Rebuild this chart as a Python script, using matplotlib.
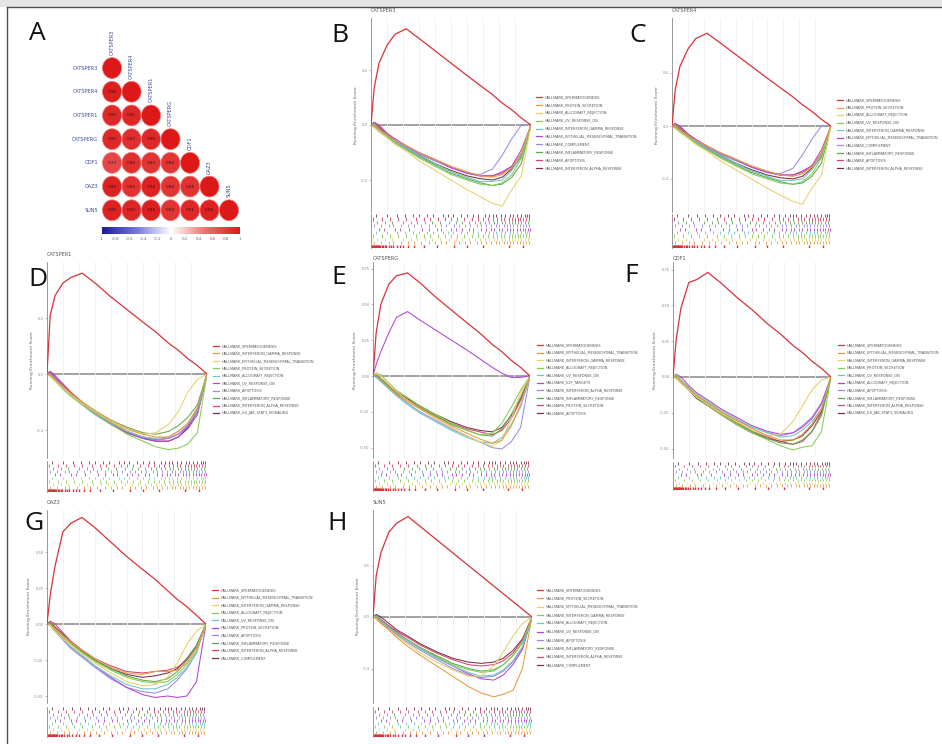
#!/usr/bin/env python3
"""
GSEA multi-panel figure: correlation plot (A) + running enrichment score plots (B-H)
"""

import matplotlib.pyplot as plt
from matplotlib.patches import Ellipse, Rectangle
from matplotlib.lines import Line2D
from matplotlib.colors import LinearSegmentedColormap, Normalize
from matplotlib.cm import ScalarMappable

plt.rcParams['font.family'] = ['DejaVu Sans']

W, H = 942, 744

# ---------------- panel A data ----------------
GENES = ['CATSPER3', 'CATSPER4', 'CATSPER1', 'CATSPERG', 'ODF1', 'OAZ3', 'SUN5']
CORR_ROWS = [
    [1.00],
    [0.96, 1.00],
    [0.90, 0.91, 1.00],
    [0.90, 0.87, 0.90, 1.00],
    [0.73, 0.86, 0.83, 0.84, 1.00],
    [0.94, 0.85, 0.94, 0.84, 0.85, 1.00],
    [0.95, 0.92, 0.96, 0.84, 0.91, 0.94, 1.00],
]
CBAR_TICKS = [-1, -0.8, -0.6, -0.4, -0.2, 0, 0.2, 0.4, 0.6, 0.8, 1]
CBAR_LABELS = ['-1', '-0.8', '-0.6', '-0.4', '-0.2', '0', '0.2', '0.4', '0.6', '0.8', '1']

# ---------------- GSEA data ----------------
X_GRID = [0, .02, .05, .1, .15, .22, .3, .4, .5, .6, .68, .76, .82, .88, .94, 1.0]

B_SETS = ['SPERMATOGENESIS', 'PROTEIN_SECRETION', 'ALLOGRAFT_REJECTION', 'UV_RESPONSE_DN',
          'INTERFERON_GAMMA_RESPONSE', 'EPITHELIAL_MESENCHYMAL_TRANSITION', 'COMPLEMENT',
          'INFLAMMATORY_RESPONSE', 'APOPTOSIS', 'INTERFERON_ALPHA_RESPONSE']
B_SCORES = [
    [0, .27, .45, .58, .66, .70, .63, .54, .45, .36, .29, .22, .16, .11, .05, 0],
    [0, -.01, -.03, -.07, -.11, -.15, -.20, -.25, -.30, -.34, -.37, -.38, -.36, -.31, -.20, 0],
    [0, -.02, -.05, -.09, -.14, -.19, -.26, -.33, -.40, -.47, -.52, -.57, -.59, -.47, -.37, 0],
    [0, .01, -.03, -.08, -.13, -.18, -.24, -.30, -.36, -.40, -.43, -.44, -.42, -.36, -.24, 0],
    [0, -.01, -.04, -.08, -.12, -.17, -.22, -.28, -.34, -.38, -.41, -.41, -.40, -.33, -.22, 0],
    [0, .02, .00, -.06, -.10, -.15, -.20, -.25, -.31, -.35, -.37, -.37, -.34, -.30, -.18, 0],
    [0, .00, -.04, -.08, -.12, -.16, -.21, -.26, -.31, -.35, -.36, -.32, -.22, -.10, .00, 0],
    [0, -.01, -.04, -.09, -.13, -.18, -.23, -.29, -.35, -.39, -.42, -.44, -.43, -.38, -.28, 0],
    [0, .02, -.01, -.06, -.11, -.16, -.21, -.26, -.31, -.35, -.37, -.37, -.35, -.30, -.21, 0],
    [0, .01, -.02, -.07, -.12, -.17, -.22, -.28, -.33, -.37, -.39, -.40, -.38, -.32, -.23, 0],
]

C_SETS = B_SETS
C_SCORES = B_SCORES  # CATSPER4 curves are practically identical to CATSPER3

D_SETS = ['SPERMATOGENESIS', 'INTERFERON_GAMMA_RESPONSE', 'EPITHELIAL_MESENCHYMAL_TRANSITION',
          'PROTEIN_SECRETION', 'ALLOGRAFT_REJECTION', 'UV_RESPONSE_DN', 'APOPTOSIS',
          'INFLAMMATORY_RESPONSE', 'INTERFERON_ALPHA_RESPONSE', 'IL6_JAK_STAT3_SIGNALING']
D_SCORES = [
    [0, .42, .56, .65, .69, .72, .65, .55, .46, .37, .30, .22, .17, .11, .06, 0],
    [0, -.01, -.04, -.09, -.14, -.20, -.26, -.33, -.39, -.43, -.45, -.45, -.41, -.35, -.24, 0],
    [0, -.02, -.05, -.10, -.15, -.21, -.27, -.34, -.40, -.43, -.42, -.36, -.27, -.13, -.04, 0],
    [0, -.01, -.05, -.11, -.16, -.22, -.29, -.36, -.43, -.48, -.52, -.54, -.53, -.50, -.42, 0],
    [0, .00, -.04, -.10, -.15, -.21, -.28, -.35, -.41, -.45, -.46, -.45, -.41, -.36, -.26, 0],
    [0, .01, -.02, -.08, -.14, -.21, -.28, -.36, -.42, -.46, -.48, -.48, -.45, -.38, -.27, 0],
    [0, .00, -.03, -.09, -.15, -.22, -.29, -.36, -.42, -.46, -.47, -.46, -.43, -.38, -.29, 0],
    [0, -.01, -.04, -.09, -.14, -.20, -.27, -.33, -.38, -.42, -.43, -.41, -.37, -.31, -.22, 0],
    [0, .02, -.01, -.07, -.13, -.20, -.27, -.34, -.41, -.45, -.47, -.46, -.43, -.37, -.25, 0],
    [0, .01, -.03, -.09, -.15, -.21, -.28, -.35, -.42, -.46, -.48, -.48, -.45, -.39, -.29, 0],
]

E_SETS = ['SPERMATOGENESIS', 'EPITHELIAL_MESENCHYMAL_TRANSITION', 'INTERFERON_GAMMA_RESPONSE',
          'ALLOGRAFT_REJECTION', 'UV_RESPONSE_DN', 'E2F_TARGETS', 'INTERFERON_ALPHA_RESPONSE',
          'INFLAMMATORY_RESPONSE', 'PROTEIN_SECRETION', 'APOPTOSIS']
E_SCORES = [
    [0, .30, .50, .64, .70, .72, .65, .55, .46, .37, .30, .22, .17, .11, .06, 0],
    [0, .01, -.03, -.08, -.13, -.18, -.23, -.29, -.35, -.40, -.44, -.47, -.45, -.35, -.20, 0],
    [0, .02, .00, -.06, -.11, -.17, -.23, -.30, -.36, -.42, -.46, -.49, -.45, -.30, -.12, 0],
    [0, .02, .01, -.05, -.10, -.15, -.21, -.27, -.33, -.38, -.41, -.40, -.33, -.22, -.10, 0],
    [0, -.01, -.04, -.09, -.14, -.20, -.26, -.32, -.38, -.43, -.46, -.47, -.43, -.34, -.22, 0],
    [0, .08, .17, .30, .41, .45, .39, .32, .25, .18, .12, .06, .02, -.01, -.01, 0],
    [0, .00, -.03, -.08, -.13, -.19, -.25, -.31, -.37, -.42, -.46, -.50, -.51, -.46, -.36, 0],
    [0, .01, -.02, -.07, -.12, -.17, -.22, -.28, -.34, -.38, -.41, -.42, -.37, -.27, -.15, 0],
    [0, .00, -.03, -.08, -.12, -.17, -.22, -.28, -.33, -.37, -.39, -.41, -.38, -.30, -.17, 0],
    [0, .01, -.02, -.07, -.11, -.16, -.21, -.27, -.32, -.36, -.38, -.39, -.36, -.28, -.16, 0],
]

F_SETS = ['SPERMATOGENESIS', 'EPITHELIAL_MESENCHYMAL_TRANSITION', 'INTERFERON_GAMMA_RESPONSE',
          'PROTEIN_SECRETION', 'UV_RESPONSE_DN', 'ALLOGRAFT_REJECTION', 'APOPTOSIS',
          'INFLAMMATORY_RESPONSE', 'INTERFERON_ALPHA_RESPONSE', 'IL6_JAK_STAT3_SIGNALING']
F_SCORES = [
    [0, .26, .48, .66, .68, .73, .66, .56, .47, .37, .30, .22, .17, .11, .06, 0],
    [0, .01, -.03, -.08, -.13, -.18, -.24, -.30, -.36, -.41, -.44, -.44, -.40, -.33, -.22, 0],
    [0, -.01, -.04, -.09, -.14, -.19, -.25, -.31, -.37, -.41, -.40, -.31, -.20, -.09, -.02, 0],
    [0, .00, -.04, -.09, -.14, -.20, -.26, -.33, -.39, -.44, -.48, -.51, -.49, -.48, -.38, 0],
    [0, .02, -.02, -.07, -.12, -.17, -.23, -.29, -.35, -.39, -.42, -.41, -.37, -.31, -.22, 0],
    [0, .02, .00, -.06, -.11, -.16, -.22, -.28, -.34, -.38, -.40, -.39, -.35, -.29, -.19, 0],
    [0, .00, -.03, -.08, -.13, -.18, -.24, -.30, -.35, -.39, -.41, -.39, -.34, -.28, -.18, 0],
    [0, -.01, -.04, -.09, -.14, -.19, -.25, -.32, -.38, -.43, -.46, -.47, -.44, -.38, -.27, 0],
    [0, .01, -.03, -.08, -.13, -.19, -.25, -.31, -.38, -.42, -.45, -.47, -.45, -.38, -.25, 0],
    [0, .00, -.04, -.09, -.15, -.20, -.26, -.33, -.39, -.43, -.45, -.44, -.41, -.34, -.24, 0],
]

G_SETS = ['SPERMATOGENESIS', 'EPITHELIAL_MESENCHYMAL_TRANSITION', 'INTERFERON_GAMMA_RESPONSE',
          'ALLOGRAFT_REJECTION', 'UV_RESPONSE_DN', 'PROTEIN_SECRETION', 'APOPTOSIS',
          'INFLAMMATORY_RESPONSE', 'INTERFERON_ALPHA_RESPONSE', 'COMPLEMENT']
G_SCORES = [
    [0, .20, .40, .64, .70, .74, .67, .57, .47, .38, .31, .23, .17, .12, .06, 0],
    [0, .00, -.03, -.08, -.13, -.18, -.24, -.30, -.34, -.35, -.33, -.33, -.32, -.27, -.17, 0],
    [0, -.01, -.05, -.10, -.15, -.21, -.27, -.34, -.40, -.43, -.42, -.37, -.27, -.14, -.05, 0],
    [0, .00, -.04, -.09, -.14, -.20, -.26, -.32, -.37, -.40, -.41, -.40, -.35, -.28, -.19, 0],
    [0, -.01, -.05, -.10, -.16, -.22, -.29, -.36, -.42, -.45, -.45, -.42, -.37, -.30, -.20, 0],
    [0, .00, -.04, -.10, -.16, -.22, -.29, -.37, -.44, -.49, -.51, -.50, -.51, -.50, -.40, 0],
    [0, -.01, -.05, -.11, -.17, -.23, -.30, -.38, -.44, -.47, -.48, -.45, -.39, -.31, -.20, 0],
    [0, .01, -.03, -.08, -.13, -.19, -.25, -.31, -.36, -.39, -.40, -.38, -.33, -.25, -.15, 0],
    [0, .02, .00, -.06, -.12, -.18, -.24, -.29, -.33, -.34, -.33, -.32, -.30, -.25, -.16, 0],
    [0, .01, -.02, -.07, -.13, -.19, -.25, -.31, -.35, -.37, -.36, -.34, -.31, -.24, -.15, 0],
]

H_SETS = ['SPERMATOGENESIS', 'PROTEIN_SECRETION', 'EPITHELIAL_MESENCHYMAL_TRANSITION',
          'INTERFERON_GAMMA_RESPONSE', 'ALLOGRAFT_REJECTION', 'UV_RESPONSE_DN', 'APOPTOSIS',
          'INFLAMMATORY_RESPONSE', 'INTERFERON_ALPHA_RESPONSE', 'COMPLEMENT']
H_SCORES = [
    [0, .32, .50, .66, .73, .78, .70, .60, .50, .40, .32, .24, .18, .12, .06, 0],
    [0, -.01, -.05, -.10, -.16, -.23, -.30, -.38, -.46, -.54, -.59, -.62, -.60, -.57, -.40, 0],
    [0, -.02, -.05, -.10, -.15, -.21, -.28, -.35, -.41, -.46, -.46, -.38, -.27, -.15, -.05, 0],
    [0, .00, -.03, -.08, -.13, -.18, -.24, -.31, -.37, -.41, -.43, -.42, -.37, -.30, -.20, 0],
    [0, .01, -.03, -.08, -.13, -.19, -.25, -.32, -.38, -.43, -.46, -.45, -.41, -.34, -.23, 0],
    [0, .01, -.02, -.07, -.12, -.18, -.24, -.31, -.38, -.44, -.48, -.49, -.45, -.37, -.25, 0],
    [0, .00, -.04, -.09, -.14, -.20, -.26, -.33, -.40, -.45, -.47, -.46, -.42, -.35, -.24, 0],
    [0, .00, -.03, -.08, -.13, -.18, -.24, -.30, -.36, -.40, -.42, -.41, -.37, -.30, -.20, 0],
    [0, .01, -.02, -.07, -.11, -.16, -.22, -.28, -.33, -.37, -.38, -.37, -.34, -.28, -.18, 0],
    [0, .02, .00, -.05, -.10, -.15, -.21, -.27, -.32, -.35, -.36, -.35, -.32, -.26, -.17, 0],
]

# rank positions of gene-set members (rug rows)
HITS_SPERM = [0.004, 0.01, 0.015, 0.02, 0.025, 0.03, 0.035, 0.04, 0.045, 0.05, 0.058, 0.066,
              0.075, 0.085, 0.095, 0.11, 0.125, 0.14, 0.16, 0.18, 0.2, 0.23, 0.27, 0.33, 0.41,
              0.52, 0.6, 0.7, 0.86, 0.95]
HITS_A = [0.02, 0.06, 0.11, 0.14, 0.19, 0.23, 0.27, 0.31, 0.36, 0.4, 0.44, 0.47, 0.52, 0.55,
          0.59, 0.62, 0.66, 0.69, 0.72, 0.75, 0.78, 0.8, 0.83, 0.85, 0.87, 0.89, 0.91, 0.93,
          0.95, 0.97, 0.99]
HITS_B = [0.04, 0.09, 0.13, 0.2, 0.25, 0.29, 0.34, 0.38, 0.43, 0.49, 0.53, 0.57, 0.61, 0.65,
          0.68, 0.71, 0.74, 0.77, 0.79, 0.82, 0.84, 0.86, 0.88, 0.9, 0.92, 0.94, 0.96, 0.98]
HITS_C = [0.01, 0.07, 0.12, 0.17, 0.22, 0.28, 0.33, 0.37, 0.42, 0.46, 0.5, 0.54, 0.58, 0.63,
          0.67, 0.7, 0.73, 0.76, 0.79, 0.81, 0.83, 0.86, 0.88, 0.9, 0.92, 0.93, 0.95, 0.97, 0.985]
HITS_D = [0.03, 0.1, 0.16, 0.21, 0.26, 0.3, 0.35, 0.39, 0.45, 0.48, 0.51, 0.56, 0.6, 0.64,
          0.67, 0.71, 0.74, 0.76, 0.78, 0.81, 0.84, 0.87, 0.89, 0.91, 0.94, 0.96, 0.975, 0.99]
HITS_E = [0.05, 0.08, 0.15, 0.18, 0.24, 0.32, 0.36, 0.41, 0.44, 0.5, 0.53, 0.57, 0.61, 0.64,
          0.69, 0.72, 0.75, 0.77, 0.8, 0.82, 0.85, 0.87, 0.89, 0.91, 0.93, 0.95, 0.965, 0.98, 0.995]
RUG_ROWS = [HITS_SPERM, HITS_A, HITS_B, HITS_C, HITS_D, HITS_E, HITS_A, HITS_B, HITS_C, HITS_D]

PALETTE = ['#d8323a', '#e89a3c', '#e6d06a', '#86cc55', '#6cc6c6',
           '#b444d0', '#9a8ce6', '#5fa84a', '#d24474', '#7a3040']

TICKS_04 = ([0.4, 0.0, -0.4], ['0.4', '0.0', '-0.4'])
TICKS_025 = ([0.75, 0.5, 0.25, 0.0, -0.25, -0.5], ['0.75', '0.50', '0.25', '0.00', '-0.25', '-0.50'])
TICKS_025G = ([0.5, 0.25, 0.0, -0.25, -0.5], ['0.50', '0.25', '0.00', '-0.25', '-0.50'])

fig = plt.figure(figsize=(W / 100, H / 100), dpi=100)
fig.patch.set_facecolor('white')


def fx(x):
    return x / W


def fy(y):
    return 1 - y / H


def px_axes(left, top, right, bottom):
    return fig.add_axes([left / W, 1 - bottom / H, (right - left) / W, (bottom - top) / H])


# frame
fig.add_artist(Rectangle((0, fy(7)), 1, 1 - fy(7), transform=fig.transFigure,
                         facecolor='#e6e6e6', edgecolor='none'))
fig.add_artist(Line2D([fx(7), 1], [fy(7), fy(7)], transform=fig.transFigure, color='#505050', lw=1.0))
fig.add_artist(Line2D([fx(7), fx(7)], [fy(7), 0], transform=fig.transFigure, color='#505050', lw=1.0))

# ---------------- panel A: correlation circles ----------------
cmap = LinearSegmentedColormap.from_list('corr', ['#1a1a9c', '#7676d8', '#ffffff', '#ec7070', '#dc1818'])
norm = Normalize(-1, 1)

hax = px_axes(102.3, 56.2, 238.7, 222.1)
hax.set_xlim(-0.5, 6.5)
hax.set_ylim(6.5, -0.5)
hax.axis('off')
for i, row in enumerate(CORR_ROWS):
    for j, v in enumerate(row):
        hax.add_patch(Ellipse((j, i), 0.98, 0.88, facecolor=cmap(norm(v)),
                              edgecolor='#f27a7a', lw=0.5))
        if i != j:
            hax.text(j, i, f'{v:.2f}', ha='center', va='center', fontsize=3.0, color='#3a1010')
    hax.text(-0.72, i, GENES[i], ha='right', va='center', fontsize=3.6, color='#3a4a9a', clip_on=False)
    hax.text(i, i - 0.55, GENES[i], rotation=90, ha='center', va='bottom', fontsize=3.6,
             color='#3a4a9a', clip_on=False)

cax = px_axes(102, 227, 240, 234)
cb = fig.colorbar(ScalarMappable(norm=norm, cmap=cmap), cax=cax, orientation='horizontal')
cb.outline.set_visible(False)
cb.set_ticks(CBAR_TICKS)
cb.set_ticklabels(CBAR_LABELS)
cax.tick_params(length=0, labelsize=2.8, colors='#666666', pad=2)

# ---------------- panels B-H: GSEA plots ----------------
# l/r/t/b: plot box in px, z: zero line y, ppu: px per score unit,
# rt/rb: rug box, ty: title y, lx/lt/lb: legend x, first and last row y
PANELS = [
    ('B', 'CATSPER3', B_SETS, B_SCORES, TICKS_04,
     dict(l=371, r=531, t=18, b=212, z=125, ppu=137.5, rt=214, rb=248, ty=11, lx=536, lt=97, lb=168),
     (340, 35)),
    ('C', 'CATSPER4', C_SETS, C_SCORES, TICKS_04,
     dict(l=672, r=831, t=18, b=212, z=126, ppu=132.5, rt=214, rb=248, ty=11, lx=837, lt=100, lb=168),
     (638, 35)),
    ('D', 'CATSPER1', D_SETS, D_SCORES, TICKS_04,
     dict(l=47, r=207, t=262, b=458, z=374, ppu=140.0, rt=461, rb=492, ty=255, lx=213, lt=346, lb=413),
     (38, 279)),
    ('E', 'CATSPERG', E_SETS, E_SCORES, TICKS_025,
     dict(l=373, r=530, t=262, b=458, z=376, ppu=143.2, rt=461, rb=491, ty=259, lx=537, lt=345, lb=413),
     (339, 278)),
    ('F', 'ODF1', F_SETS, F_SCORES, TICKS_025,
     dict(l=673, r=831, t=262, b=458, z=377, ppu=143.2, rt=462, rb=490, ty=259, lx=838, lt=345, lb=413),
     (631, 276)),
    ('G', 'OAZ3', G_SETS, G_SCORES, TICKS_025G,
     dict(l=47, r=206, t=510, b=703, z=624, ppu=144.0, rt=707, rb=737, ty=502, lx=212, lt=590, lb=658),
     (34, 523)),
    ('H', 'SUN5', H_SETS, H_SCORES, TICKS_04,
     dict(l=373, r=532, t=510, b=703, z=617, ppu=128.75, rt=707, rb=737, ty=502, lx=537, lt=590, lb=665),
     (337, 524)),
]

for letter, gene, sets, scores, yticks, p, lpos in PANELS:
    ax = px_axes(p['l'], p['t'], p['r'], p['b'])
    ax.set_xlim(0, 1)
    ax.set_ylim(-(p['b'] - p['z']) / p['ppu'], (p['z'] - p['t']) / p['ppu'])
    ax.set_xticks([0.1, 0.2, 0.3, 0.4, 0.5, 0.6, 0.7, 0.8, 0.9])
    ax.grid(axis='x', color='#f0f0f0', lw=0.6)
    ax.tick_params(axis='x', length=0, labelbottom=False)
    ax.set_yticks(yticks[0])
    ax.set_yticklabels(yticks[1])
    ax.tick_params(axis='y', length=1.5, width=0.4, labelsize=2.6, colors='#888888', pad=1)
    for s in ['top', 'right', 'bottom']:
        ax.spines[s].set_visible(False)
    ax.spines['left'].set_color('#888888')
    ax.spines['left'].set_linewidth(0.6)
    ax.set_ylabel('Running Enrichment Score', fontsize=3.2, color='#666666', labelpad=2)
    ax.axhline(0, color='#9a9a9a', lw=1.3, zorder=1)
    for i in range(len(scores) - 1, -1, -1):
        ax.plot(X_GRID, scores[i], color=PALETTE[i], lw=0.9 if i == 0 else 0.75,
                zorder=10 if i == 0 else 3)

    fig.text(fx(p['l']), fy(p['ty']), gene, fontsize=3.6, color='#555555', va='center')

    # legend
    step = (p['lb'] - p['lt']) / (len(sets) - 1)
    for i, name in enumerate(sets):
        yy = fy(p['lt'] + i * step)
        fig.add_artist(Line2D([fx(p['lx']), fx(p['lx'] + 6)], [yy, yy], transform=fig.transFigure,
                              color=PALETTE[i], lw=0.9))
        fig.text(fx(p['lx'] + 9), yy, 'HALLMARK_' + name, fontsize=2.5, color='#555555', va='center')

    # rug of gene-set hits
    rax = px_axes(p['l'], p['rt'], p['r'], p['rb'])
    rax.set_xlim(0, 1)
    rax.set_ylim(0, len(sets))
    rax.set_xticks([])
    rax.set_yticks([])
    for s in ['top', 'right', 'bottom']:
        rax.spines[s].set_visible(False)
    rax.spines['left'].set_color('#888888')
    rax.spines['left'].set_linewidth(0.6)
    for i in range(len(sets)):
        rax.vlines(RUG_ROWS[i], i + 0.05, i + 1.0, color=PALETTE[i], lw=1.0 if i == 0 else 0.6)

    fig.text(fx(lpos[0]), fy(lpos[1]), letter, fontsize=19, family='Open Sans',
             ha='center', va='center', color='#111111')

fig.text(fx(37), fy(33), 'A', fontsize=19, family='Open Sans', ha='center', va='center', color='#111111')

plt.savefig('out.png', dpi=100)
plt.close()
